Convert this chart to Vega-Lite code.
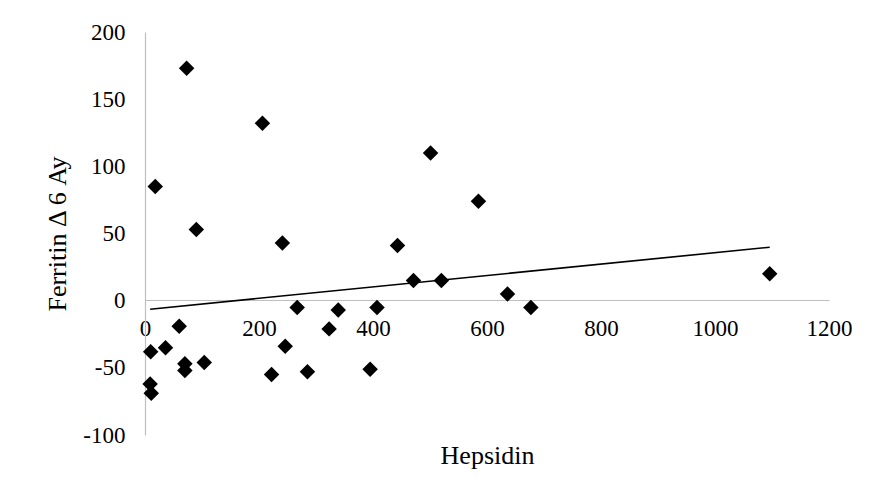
{
  "$schema": "https://vega.github.io/schema/vega-lite/v6.json",
  "width": 684,
  "height": 403,
  "autosize": "none",
  "padding": {"left": 145, "top": 32, "right": 47, "bottom": 69},
  "background": "white",
  "config": {"view": {"stroke": null}, "font": "Liberation Serif"},
  "data": {"values": [
    {"hepsidin": 73, "ferritin": 173},
    {"hepsidin": 206, "ferritin": 132},
    {"hepsidin": 18, "ferritin": 85},
    {"hepsidin": 90, "ferritin": 53},
    {"hepsidin": 241, "ferritin": 43},
    {"hepsidin": 501, "ferritin": 110},
    {"hepsidin": 585, "ferritin": 74},
    {"hepsidin": 443, "ferritin": 41},
    {"hepsidin": 471, "ferritin": 15},
    {"hepsidin": 520, "ferritin": 15},
    {"hepsidin": 267, "ferritin": -5},
    {"hepsidin": 339, "ferritin": -7},
    {"hepsidin": 407, "ferritin": -5},
    {"hepsidin": 60, "ferritin": -19},
    {"hepsidin": 323, "ferritin": -21},
    {"hepsidin": 10, "ferritin": -38},
    {"hepsidin": 36, "ferritin": -35},
    {"hepsidin": 246, "ferritin": -34},
    {"hepsidin": 70, "ferritin": -47},
    {"hepsidin": 70, "ferritin": -52},
    {"hepsidin": 104, "ferritin": -46},
    {"hepsidin": 222, "ferritin": -55},
    {"hepsidin": 285, "ferritin": -53},
    {"hepsidin": 395, "ferritin": -51},
    {"hepsidin": 9, "ferritin": -62},
    {"hepsidin": 11, "ferritin": -69},
    {"hepsidin": 636, "ferritin": 5},
    {"hepsidin": 677, "ferritin": -5},
    {"hepsidin": 1096, "ferritin": 20}
  ]},
  "encoding": {
    "x": {
      "field": "hepsidin",
      "type": "quantitative",
      "scale": {"domain": [0, 1200], "nice": false, "zero": false},
      "axis": {
        "title": "Hepsidin",
        "values": [0, 200, 400, 600, 800, 1000, 1200],
        "labelExpr": "'' + datum.value",
        "offset": -135,
        "grid": false,
        "ticks": false,
        "domainColor": "#BFBFBF",
        "domainWidth": 1.2,
        "labelFont": "Liberation Serif",
        "labelFontSize": 23,
        "labelColor": "#000000",
        "labelPadding": 17,
        "labelFlush": false,
        "labelOverlap": false,
        "titleFont": "Liberation Serif",
        "titleFontSize": 26,
        "titleFontWeight": "normal",
        "titleColor": "#000000",
        "titlePadding": 102
      }
    },
    "y": {
      "field": "ferritin",
      "type": "quantitative",
      "scale": {"domain": [-100, 200], "nice": false, "zero": false},
      "axis": {
        "title": "Ferritin Δ 6 Ay",
        "values": [-100, -50, 0, 50, 100, 150, 200],
        "labelExpr": "'' + datum.value",
        "grid": false,
        "ticks": false,
        "domainColor": "#BFBFBF",
        "domainWidth": 1.2,
        "labelFont": "Liberation Serif",
        "labelFontSize": 23,
        "labelColor": "#000000",
        "labelPadding": 20,
        "labelFlush": false,
        "labelOverlap": false,
        "titleFont": "Liberation Serif",
        "titleFontSize": 26,
        "titleFontWeight": "normal",
        "titleColor": "#000000",
        "titlePadding": 12
      }
    }
  },
  "layer": [
    {
      "mark": {"type": "point", "shape": "diamond", "filled": true, "color": "#000000", "opacity": 1, "size": 240}
    },
    {
      "transform": [{"regression": "ferritin", "on": "hepsidin"}],
      "mark": {"type": "line", "color": "#000000", "strokeWidth": 1.6}
    }
  ]
}
